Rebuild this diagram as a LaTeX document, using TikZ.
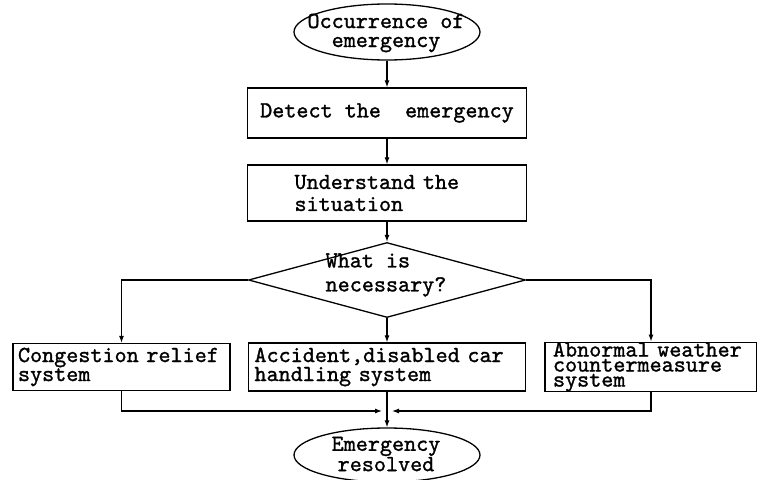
\documentclass[tikz,border=0pt]{standalone}
\usepackage{fontspec}
\newfontfamily\tw[FakeBold=1.2]{lmmono10-regular.otf}
\newcommand\twsize[2]{\tw\fontsize{#1}{#2}\selectfont\spaceskip=0.525em\relax\xspaceskip=0.525em\relax}
\usetikzlibrary{shapes.geometric,arrows.meta}
\begin{document}
\begin{tikzpicture}[x=1pt,y=-1pt,
  txt/.style={font=\twsize{23}{19}, inner sep=0pt},
  box/.style={draw, line width=1.3pt, txt, align=left},
  oval/.style={draw, line width=1.3pt, ellipse, inner sep=0pt},
  dia/.style={draw, line width=1.3pt, diamond, inner sep=0pt},
  conn/.style={line width=1.1pt},
  arr/.style={conn, -{Latex[length=7pt,width=5pt]}}]
\useasboundingbox (0,0) rectangle (757,479);
% start
\node[oval, minimum width=186pt, minimum height=56pt] (occ) at (387,32) {};
\node[txt, align=center] (occtxt) at (386,33) {Occurrence of\\emergency};
% detect
\node[box, minimum width=279pt, minimum height=50pt, align=center] (det) at (387,113) {Detect the~ emergency};
% understand
\node[box, minimum width=279pt, minimum height=56pt, inner xsep=47pt, text width=185pt,
      font=\twsize{23}{22}] (und) at (387,193) {Understand the\\situation};
% decision
\node[dia, minimum width=277pt, minimum height=75pt] (dec) at (387,280) {};
\node[txt, align=left, font=\twsize{23}{24}] (dectxt) at (386,275) {What is\\necessary?};
% three systems
\node[box, minimum width=217pt, minimum height=47pt, inner xsep=5pt, text width=207pt] (cong) at (121.5,367) {Congestion relief\\system};
\node[box, minimum width=277pt, minimum height=48pt, inner xsep=6pt, text width=265pt] (acc) at (387,367) {Accident,disabled car\\handling system};
\node[box, minimum width=212pt, minimum height=48pt, inner xsep=8pt, text width=196pt,
      font=\twsize{23}{15}] (wea) at (651,367) {Abnormal weather\\countermeasure\\system};
% end
\node[oval, minimum width=186pt, minimum height=54pt] (end) at (387,455) {};
\node[txt, align=center] (endtxt) at (386,454) {Emergency\\resolved};
% merge points
\coordinate (mL) at (382,411);
\coordinate (mR) at (392,411);
% connectors
\draw[arr] (occ.south) -- (det.north);
\draw[arr] (det.south) -- (und.north);
\draw[arr] (und.south) -- (dec.north);
\draw[arr] (dec.west) -| (cong.north);
\draw[arr] (dec.east) -| (wea.north);
\draw[arr] (dec.south) -- (acc.north);
\draw[arr] (acc.south) -- (end.north);
\draw[arr] (cong.south) |- (mL);
\draw[arr] (wea.south) |- (mR);
\end{tikzpicture}
\end{document}
